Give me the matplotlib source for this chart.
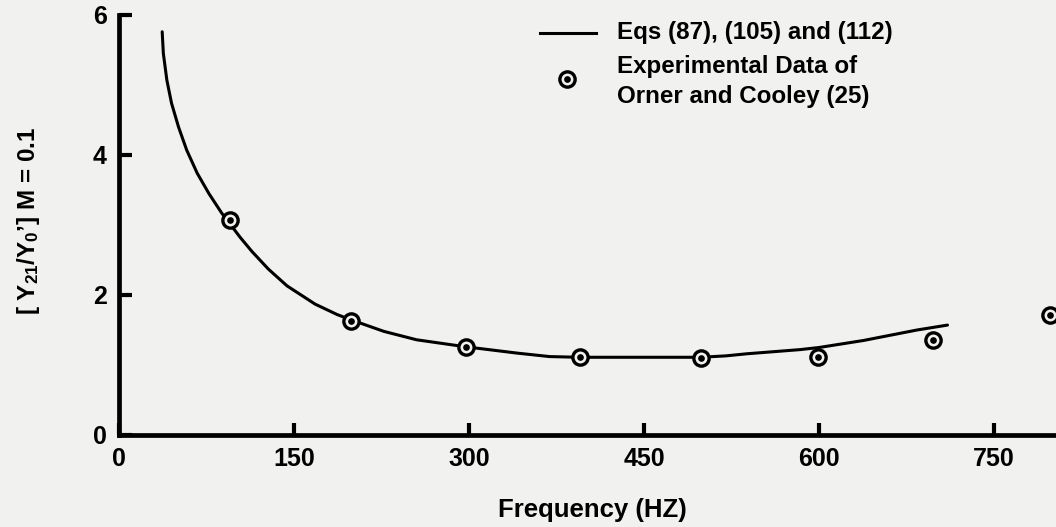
import matplotlib
matplotlib.use("Agg")
import matplotlib.pyplot as plt
from matplotlib.lines import Line2D

# curva teorica (Eqs 87, 105 y 112), leida punto a punto
curve_freq = [37, 38, 41, 45, 51, 58, 67, 77, 88, 104, 114, 128, 144, 168, 187, 198,
              227, 255, 297, 341, 369, 395, 447, 498, 520, 538, 584, 600, 638, 684, 710]
curve_y = [5.76, 5.45, 5.07, 4.74, 4.40, 4.07, 3.74, 3.45, 3.17, 2.82, 2.62, 2.37, 2.13, 1.87, 1.72, 1.65,
           1.48, 1.36, 1.26, 1.17, 1.12, 1.11, 1.11, 1.11, 1.13, 1.16, 1.22, 1.25, 1.35, 1.50, 1.57]

# datos experimentales de Orner y Cooley
exp_freq = [95, 199, 297, 395, 499, 599, 698, 798]
exp_y = [3.07, 1.63, 1.26, 1.11, 1.10, 1.12, 1.36, 1.71]

x_ticks = [0, 150, 300, 450, 600, 750]
y_ticks = [0, 2, 4, 6]

bg = "#f1f1ef"
plt.rcParams["font.family"] = ["Liberation Sans", "DejaVu Sans"]
plt.rcParams["font.weight"] = "bold"
plt.rcParams["mathtext.fontset"] = "custom"
plt.rcParams["mathtext.rm"] = "Liberation Sans:bold"
plt.rcParams["mathtext.it"] = "Liberation Sans:bold"
plt.rcParams["mathtext.bf"] = "Liberation Sans:bold"

fig = plt.figure(figsize=(10.56, 5.27), dpi=100, facecolor=bg)
ax = fig.add_axes([0.1127, 0.1746, 0.8873, 0.797])
ax.set_facecolor(bg)

ax.plot(curve_freq, curve_y, color="black", lw=2.2, zorder=2,
        solid_joinstyle="round", solid_capstyle="round")
ax.plot(exp_freq, exp_y, ls="none", marker="o", ms=11, mew=2.4,
        mec="black", mfc=bg, zorder=3)
ax.plot(exp_freq, exp_y, ls="none", marker="o", ms=3.8, mec="black", mfc="black", zorder=4)

ax.set_xlim(0, 803)
ax.set_ylim(0, 6)
ax.set_xticks(x_ticks)
ax.set_yticks(y_ticks)

for s in ["top", "right"]:
    ax.spines[s].set_visible(False)
for s in ["left", "bottom"]:
    ax.spines[s].set_linewidth(3.4)

ax.tick_params(direction="in", length=9, width=3, labelsize=18, pad=9)

ax.set_xlabel("Frequency (HZ)", fontsize=18.5, fontweight="bold")
ax.xaxis.set_label_coords(0.5048, -0.1786)
ax.xaxis.label.set_verticalalignment("center")

ax.set_ylabel("[ Y$_{21}$/Y$_0$\u2019] M = 0.1", fontsize=17.5, fontweight="bold")
ax.yaxis.set_label_coords(-0.097, 0.5095)
ax.yaxis.label.set_verticalalignment("center")

# leyenda dibujada a mano
fig.add_artist(Line2D([0.5114, 0.5644], [0.9374, 0.9374], color="black", lw=2.2,
                      transform=fig.transFigure))
fig.add_artist(Line2D([0.5366], [0.8495], ls="none", marker="o", ms=11, mew=2.4,
                      mec="black", mfc=bg, transform=fig.transFigure))
fig.add_artist(Line2D([0.5366], [0.8495], ls="none", marker="o", ms=3.8,
                      mec="black", mfc="black", transform=fig.transFigure))
fig.text(0.584, 0.9374, "Eqs (87), (105) and (112)", fontsize=17.4, fontweight="bold", va="center")
fig.text(0.584, 0.8734, "Experimental Data of", fontsize=17.4, fontweight="bold", va="center")
fig.text(0.584, 0.8165, "Orner and Cooley (25)", fontsize=17.4, fontweight="bold", va="center")

fig.savefig("out.png", dpi=100, facecolor=bg)
